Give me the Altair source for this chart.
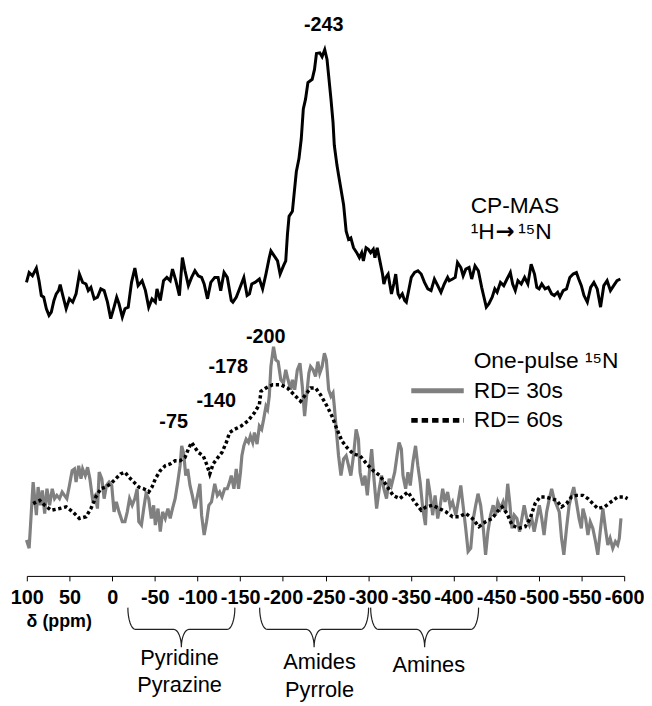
import math
import altair as alt
import pandas as pd

# ---------------- data ----------------
# (chemical shift in ppm, intensity in arbitrary units)
CP_MAS = [
    (100.4, 8.3), (97.3, 18.3), (93.4, 15.0), (88.8, 22.7), (85.7, 10.0), (83.0, -5.0), (80.2, -6.7),
    (77.1, -18.3), (74.0, -25.0), (71.3, -21.7), (68.2, -10.0), (65.5, -3.3), (62.8, 0.0), (60.9, 6.0),
    (57.8, -5.0), (53.9, -18.3), (50.1, -8.3), (46.2, -11.7), (42.3, -3.3), (38.4, 16.7), (34.6, 8.3),
    (30.7, 6.7), (28.0, 0.0), (24.9, 3.3), (21.0, -8.3), (17.2, -6.7), (13.3, 1.7), (9.4, 0.0),
    (5.5, -11.7), (1.7, -28.3), (-2.2, -16.7), (-5.3, -6.7), (-8.0, -13.3), (-11.9, -26.7), (-15.0, -18.3),
    (-18.8, -16.7), (-22.7, 8.3), (-26.6, 22.7), (-30.4, 5.0), (-35.1, 10.0), (-39.0, 0.0), (-42.8, -16.7),
    (-46.7, -8.3), (-50.6, -11.7), (-52.5, 1.7), (-56.4, -10.0), (-60.2, 10.0), (-64.1, 13.3), (-68.0, 10.0),
    (-70.7, 21.7), (-74.6, 10.0), (-78.8, -5.0), (-82.3, 33.3), (-85.4, 20.0), (-89.3, 5.0), (-93.1, 13.3),
    (-97.0, 20.0), (-100.9, 15.0), (-104.8, 13.3), (-107.8, 6.7), (-111.7, -8.3), (-115.6, 8.3),
    (-120.2, 13.3), (-124.1, 13.3), (-127.2, 0.0), (-131.1, 18.3), (-134.9, 13.3), (-139.6, -10.0),
    (-141.5, -11.7), (-145.4, -6.7), (-149.2, 1.7), (-154.3, 13.3), (-158.1, -5.0), (-160.9, -3.3),
    (-163.6, 6.7), (-167.4, 8.3), (-172.5, 11.7), (-176.3, 1.7), (-180.2, 16.7), (-184.1, 33.3),
    (-186.0, 40.0), (-189.9, 35.0), (-193.8, 30.0), (-196.8, 16.7), (-200.7, 25.0), (-203.4, 30.0),
    (-205.4, 56.7), (-207.3, 75.0), (-211.2, 80.0), (-213.1, 96.7), (-215.8, 120.0), (-218.9, 133.3),
    (-221.6, 153.3), (-224.0, 183.3), (-226.6, 193.3), (-229.4, 210.0), (-234.4, 213.3), (-237.1, 223.3),
    (-239.4, 239.3), (-243.3, 240.0), (-246.0, 236.0), (-249.1, 243.3), (-251.8, 233.3), (-253.7, 216.7),
    (-256.4, 193.3), (-258.8, 170.0), (-260.3, 146.7), (-263.4, 126.7), (-265.3, 116.7), (-267.3, 106.7),
    (-271.2, 86.7), (-274.2, 60.0), (-277.0, 51.7), (-279.7, 53.3), (-282.8, 43.3), (-286.6, 38.3),
    (-289.7, 33.3), (-292.4, 38.3), (-294.4, 30.0), (-297.5, 43.3), (-300.2, 41.7), (-302.9, 38.3),
    (-306.0, 41.7), (-307.9, 33.3), (-310.6, 43.3), (-313.7, 30.0), (-316.8, 16.7), (-318.4, 6.7),
    (-320.7, 13.3), (-323.4, 16.7), (-325.3, 6.7), (-327.3, -3.3), (-330.0, 6.7), (-332.3, 16.7),
    (-335.0, -3.3), (-337.0, -6.7), (-340.0, -3.3), (-342.7, -10.0), (-344.7, -11.7), (-347.8, 1.7),
    (-350.5, 13.3), (-354.4, 18.3), (-358.3, 20.0), (-362.1, 16.7), (-366.0, 8.3), (-369.9, 1.7),
    (-373.7, 0.0), (-377.6, 11.7), (-381.5, 5.0), (-385.3, -1.7), (-389.2, 6.7), (-393.1, 13.3),
    (-395.0, 10.0), (-398.9, 11.7), (-402.0, 13.3), (-404.7, 28.3), (-408.6, 23.3), (-411.3, 15.0),
    (-414.4, 21.7), (-418.2, 23.3), (-421.3, 11.7), (-425.2, 25.0), (-429.1, 20.0), (-433.0, 3.3),
    (-435.7, -6.7), (-438.4, -16.7), (-441.5, -13.3), (-445.3, -6.7), (-448.4, 1.7), (-451.1, -1.7),
    (-455.0, 8.3), (-458.9, 5.0), (-462.7, 11.7), (-466.6, 18.3), (-469.3, 6.7), (-472.4, 0.0),
    (-475.5, 10.0), (-479.4, 6.7), (-483.3, 13.3), (-487.1, 6.7), (-491.0, 26.7), (-494.9, 16.7),
    (-497.6, 3.3), (-500.3, 1.7), (-503.4, 6.7), (-507.3, 1.7), (-511.1, 3.3), (-515.0, -3.3),
    (-518.1, -5.0), (-522.0, -1.7), (-524.7, -6.7), (-528.5, 0.0), (-532.4, 1.7), (-536.3, 13.3),
    (-540.2, 16.7), (-544.0, 18.3), (-546.7, 11.7), (-549.8, 5.0), (-552.9, -5.0), (-556.8, -11.7),
    (-560.7, 3.3), (-564.5, 8.3), (-568.4, 1.7), (-572.3, -16.7), (-576.1, 5.0), (-580.0, 10.0),
    (-583.9, 0.0), (-587.7, 5.0), (-591.6, 10.0), (-595.5, 11.7),
]

RD_30S = [
    (100.4, -36.7), (97.3, -45.0), (94.5, -5.0), (92.6, 21.7), (90.7, 5.0), (88.8, -11.7), (86.8, 16.7),
    (84.1, -1.7), (81.8, 13.3), (79.1, -10.0), (76.4, 15.0), (73.3, -1.7), (70.2, 15.0), (67.5, 5.0),
    (64.8, 8.3), (61.7, 5.0), (58.6, 11.7), (55.9, 8.3), (53.1, 5.0), (50.1, 18.3), (46.9, 33.3),
    (44.2, 35.0), (42.3, 21.7), (39.2, 38.3), (36.5, 25.0), (34.6, 35.0), (31.5, 28.3), (28.8, 36.7),
    (26.1, 25.0), (23.0, 5.0), (19.9, 8.3), (17.2, -5.0), (15.2, 31.7), (12.1, 25.0), (9.4, 5.0),
    (6.7, 18.3), (3.6, 21.7), (0.5, 18.3), (-2.2, -8.3), (-4.9, 1.7), (-8.0, -8.3), (-11.9, -18.3),
    (-15.0, -18.3), (-17.7, -8.3), (-20.4, 5.0), (-23.5, -1.7), (-26.6, 5.0), (-29.3, 15.0), (-31.2, -18.3),
    (-34.3, -21.7), (-37.0, -5.0), (-39.7, 10.0), (-42.8, 5.0), (-45.9, -15.0), (-48.6, -1.7),
    (-50.6, -21.7), (-53.7, -5.0), (-56.4, -28.3), (-59.1, -8.3), (-62.2, -15.0), (-65.3, -5.0),
    (-68.0, -15.0), (-70.7, -5.0), (-73.8, 5.0), (-76.9, 21.7), (-79.6, 38.3), (-81.5, 58.3), (-83.9, 50.0),
    (-86.2, 28.3), (-88.5, 35.0), (-91.2, 18.3), (-93.9, 8.3), (-97.0, -5.0), (-100.1, 8.3), (-102.8, 20.0),
    (-104.8, -11.7), (-107.8, -31.7), (-110.6, -18.3), (-113.3, -1.7), (-116.4, 1.7), (-120.2, 20.0),
    (-123.3, 8.3), (-126.0, 11.7), (-128.7, 6.7), (-131.8, 15.0), (-134.9, 15.0), (-137.6, 21.7),
    (-139.6, 28.3), (-142.7, 15.0), (-145.4, 35.0), (-148.1, 15.0), (-150.4, 31.7), (-152.0, 48.3),
    (-154.3, 58.3), (-157.0, 65.0), (-159.7, 61.7), (-162.0, 68.3), (-164.7, 61.7), (-166.7, 71.7),
    (-169.8, 60.0), (-172.5, 78.3), (-175.2, 75.0), (-177.5, 85.0), (-180.2, 98.3), (-182.1, 95.0),
    (-184.1, 108.3), (-186.0, 138.3), (-189.1, 158.3), (-191.8, 145.0), (-194.5, 143.3), (-197.6, 125.0),
    (-200.7, 121.7), (-203.4, 135.0), (-206.1, 125.0), (-209.2, 115.0), (-211.2, 125.0), (-213.9, 115.0),
    (-217.0, 135.0), (-220.1, 141.7), (-222.8, 118.3), (-225.5, 88.3), (-227.8, 108.3), (-230.5, 131.7),
    (-232.5, 138.3), (-235.5, 135.0), (-238.3, 128.3), (-241.0, 143.3), (-243.3, 131.7), (-246.0, 138.3),
    (-248.7, 151.7), (-251.0, 145.0), (-253.7, 115.0), (-256.4, 108.3), (-258.8, 111.7), (-260.3, 98.3),
    (-262.6, 75.0), (-265.3, 48.3), (-268.1, 28.3), (-271.2, 45.0), (-274.2, 48.3), (-277.0, 38.3),
    (-279.7, 28.3), (-282.8, 48.3), (-285.9, 75.0), (-288.6, 65.0), (-290.5, 31.7), (-293.6, 18.3),
    (-296.3, 28.3), (-299.0, 8.3), (-302.1, 38.3), (-304.1, 55.0), (-306.8, 25.0), (-309.9, -5.0),
    (-313.0, 15.0), (-315.7, 28.3), (-318.4, 15.0), (-321.5, 5.0), (-324.6, 25.0), (-327.3, 18.3),
    (-331.1, 31.7), (-333.8, 48.3), (-336.2, 61.7), (-338.9, 55.0), (-340.8, 28.3), (-343.9, 15.0),
    (-346.6, 31.7), (-349.3, 18.3), (-352.4, 41.7), (-355.5, 58.3), (-358.2, 38.3), (-360.9, 21.7),
    (-364.0, -5.0), (-367.1, -21.7), (-369.8, 25.0), (-372.9, 8.3), (-375.6, -11.7), (-378.4, 8.3),
    (-381.5, -15.0), (-384.5, -1.7), (-387.3, 15.0), (-390.0, 1.7), (-393.1, 11.7), (-396.2, -3.3),
    (-398.9, 1.7), (-402.7, -11.7), (-405.4, 1.7), (-408.5, 18.3), (-411.6, -5.0), (-414.3, -25.0),
    (-417.1, -48.3), (-420.2, -45.0), (-423.2, -15.0), (-426.0, -1.7), (-428.7, 10.0), (-431.8, -1.7),
    (-434.9, -25.0), (-437.6, -51.7), (-440.3, -28.3), (-443.4, -11.7), (-446.5, -1.7), (-449.2, -11.7),
    (-451.9, 1.7), (-455.0, -5.0), (-458.1, 1.7), (-460.8, -8.3), (-463.5, 20.0), (-465.8, 1.7),
    (-468.5, -25.0), (-471.2, -11.7), (-474.3, -15.0), (-477.4, -28.3), (-480.1, -15.0), (-482.8, -1.7),
    (-485.9, -15.0), (-489.0, -21.7), (-491.7, -15.0), (-494.5, -28.3), (-497.6, -15.0), (-500.6, -1.7),
    (-503.4, -15.0), (-506.1, -31.7), (-509.2, -8.3), (-512.3, 5.0), (-515.0, 15.0), (-517.7, 5.0),
    (-520.8, -1.7), (-523.9, -8.3), (-526.6, -35.0), (-529.3, -51.7), (-532.4, -25.0), (-535.5, -1.7),
    (-538.2, 8.3), (-540.9, 16.7), (-544.0, 1.7), (-547.1, -15.0), (-549.8, -25.0), (-551.7, -5.0),
    (-554.8, -15.0), (-557.5, -31.7), (-560.2, -18.3), (-563.3, -25.0), (-566.4, -38.3), (-569.1, -51.7),
    (-571.9, -28.3), (-575.0, -5.0), (-578.0, -25.0), (-580.8, -41.7), (-583.5, -35.0), (-586.6, -45.0),
    (-589.7, -38.3), (-592.4, -41.7), (-594.3, -35.0), (-596.2, -15.0),
]

RD_60S = [
    (92.6, 0.0), (84.9, 3.3), (79.1, -1.7), (71.4, -6.7), (61.7, -5.0), (53.9, -3.3), (46.2, -8.3),
    (38.4, -15.0), (30.7, -13.3), (24.9, -5.0), (19.1, 6.7), (13.3, 15.0), (7.5, 16.7), (1.7, 20.0),
    (-4.1, 25.0), (-9.9, 30.0), (-15.0, 31.7), (-19.6, 26.7), (-25.4, 21.7), (-31.2, 16.7), (-37.0, 15.0),
    (-42.8, 11.7), (-46.7, 16.7), (-50.6, 25.0), (-56.4, 33.3), (-62.2, 38.3), (-68.0, 40.0), (-73.8, 43.3),
    (-79.6, 43.3), (-85.4, 46.7), (-89.3, 55.0), (-93.1, 61.7), (-97.0, 56.7), (-100.9, 51.7),
    (-106.7, 48.3), (-110.6, 40.0), (-114.4, 30.0), (-118.3, 40.0), (-124.1, 46.7), (-128.7, 51.7),
    (-133.8, 61.7), (-137.6, 71.7), (-143.4, 75.0), (-151.2, 78.3), (-158.9, 83.3), (-166.7, 91.7),
    (-172.5, 100.0), (-174.4, 113.3), (-180.2, 116.7), (-188.0, 120.0), (-197.6, 120.0), (-205.4, 116.7),
    (-213.1, 110.0), (-220.8, 103.3), (-226.6, 110.0), (-232.5, 116.7), (-238.3, 116.7), (-244.1, 110.0),
    (-251.8, 98.3), (-257.6, 88.3), (-263.4, 75.0), (-269.2, 63.3), (-275.0, 56.7), (-282.8, 50.0),
    (-290.5, 48.3), (-298.3, 40.0), (-306.0, 33.3), (-313.7, 28.3), (-321.5, 18.3), (-329.2, 8.3),
    (-336.9, 5.0), (-346.6, 11.7), (-354.4, 1.7), (-362.1, -6.7), (-367.9, -3.3), (-375.6, -1.7),
    (-383.4, -5.0), (-391.1, -8.3), (-398.9, -13.3), (-406.6, -13.3), (-414.3, -10.0), (-422.1, -15.0),
    (-429.8, -23.3), (-437.6, -18.3), (-445.3, -15.0), (-451.1, -8.3), (-456.9, -3.3), (-462.7, -10.0),
    (-468.5, -21.7), (-476.3, -25.0), (-484.0, -23.3), (-489.8, -15.0), (-495.6, 0.0), (-501.4, 6.7),
    (-507.2, 6.7), (-515.0, 5.0), (-520.8, 3.3), (-526.6, -3.3), (-532.4, 0.0), (-538.2, 6.7),
    (-544.0, 8.3), (-551.7, 8.3), (-557.5, 5.0), (-563.3, 0.0), (-569.1, -5.0), (-576.9, -3.3),
    (-584.6, 1.7), (-592.4, 6.7), (-600.1, 6.7), (-604.0, 5.0),
]

X_TICKS = [100, 50, 0, -50, -100, -150, -200, -250, -300, -350, -400, -450, -500, -550, -600]
PEAK_TEXTS = ["-243", "-200", "-178", "-140", "-75"]
TITLE_CP = "CP-MAS"
TITLE_CP_PARTS = ["\u00b9H", "\u2192", "\u00b9\u2075N"]
TITLE_ONEPULSE = "One-pulse \u00b9\u2075N"
SERIES_NAMES = ["RD= 30s", "RD= 60s"]
AXIS_TITLE = "\u03b4 (ppm)"
REGION_RANGES = [(-18.4, -143.8), (-172.8, -300.5), (-302.9, -429.4)]
REGION_TEXTS = [["Pyridine", "Pyrazine"], ["Amides", "Pyrrole"], ["Amines"]]

# ---------------- layout / style ----------------
FONT = "Liberation Sans, Arial, sans-serif"
W, H = 603, 570
TOP_OFFSET = 288      # vertical stacking offset of the CP-MAS trace
BOTTOM_OFFSET = 73    # vertical stacking offset of the one-pulse traces
PEAK_POS = [(-248, 556), (-180, 241), (-136, 211), (-122, 177), (-72, 155)]
CP_POS = (-420.1, 373)
CP2_POS = (-420.1, 347)
CP2_DX = [0, 25, 48]
ONEPULSE_POS = (-423.6, 217)
SERIES_TEXT_POS = [(-423.6, 187), (-423.6, 157)]
LEGEND_X = (-350.5, -412.0)
AXIS_TITLE_POS = (62, -47)
REGION_TEXT_POS = [[(-79, -83), (-79, -110)], [(-243, -87), (-243, -115)], [(-371, -90)]]
BRACE_Y = (-32, -54, -72)

XS = alt.Scale(domain=[100, -600], nice=False, zero=False)
YS = alt.Scale(domain=[0, H], nice=False, zero=False)

rows = []
for name, pts, off in [("cp", CP_MAS, TOP_OFFSET), ("rd30", RD_30S, BOTTOM_OFFSET), ("rd60", RD_60S, BOTTOM_OFFSET)]:
    for i, (p, v) in enumerate(pts):
        rows.append({"series": name, "i": i, "ppm": p, "y": v + off})
df = pd.DataFrame(rows)

AXIS = alt.Axis(values=X_TICKS, labelExpr="'' + datum.value", labelFont=FONT, labelFontWeight="bold",
                labelFontSize=20, labelColor="black", labelPadding=7, tickSize=5, tickColor="black",
                tickWidth=1, domainColor="black", domainWidth=1, grid=False, title=None,
                labelOverlap=False, labelFlush=False, labelBound=False)


def xenc(field="ppm"):
    return alt.X(f"{field}:Q", scale=XS, axis=AXIS)


def yenc(field="y"):
    return alt.Y(f"{field}:Q", scale=YS, axis=None)


base = alt.Chart(df)
gray = base.transform_filter("datum.series == 'rd30'").mark_line(
    color="#808080", strokeWidth=3.2).encode(x=xenc(), y=yenc(), order=alt.Order("i:Q"))
dotted = base.transform_filter("datum.series == 'rd60'").mark_line(
    color="black", strokeWidth=3.5, strokeDash=[3.3, 2.7]).encode(x=xenc(), y=yenc(), order=alt.Order("i:Q"))
top = base.transform_filter("datum.series == 'cp'").mark_line(
    color="black", strokeWidth=3).encode(x=xenc(), y=yenc(), order=alt.Order("i:Q"))


def text_layer(items, size, weight="normal", align="center", font=FONT, dx=0):
    d = pd.DataFrame([{"label": t, "ppm": p[0], "y": p[1]} for t, p in items])
    return alt.Chart(d).mark_text(font=font, fontSize=size, fontWeight=weight, align=align, dx=dx,
                                  baseline="middle", color="black").encode(
        x=xenc(), y=yenc(), text="label:N")


peaks = text_layer(list(zip(PEAK_TEXTS, PEAK_POS)), 20, "bold")
cp_title = text_layer([(TITLE_CP, CP_POS)], 23, align="left")
cp2a = text_layer([(TITLE_CP_PARTS[0], CP2_POS)], 23, align="left", dx=CP2_DX[0])
cp2b = text_layer([(TITLE_CP_PARTS[1], CP2_POS)], 23, weight="bold", align="left",
                  font="DejaVu Sans, sans-serif", dx=CP2_DX[1])
cp2c = text_layer([(TITLE_CP_PARTS[2], CP2_POS)], 23, align="left", dx=CP2_DX[2])
op_title = text_layer([(TITLE_ONEPULSE, ONEPULSE_POS)] + list(zip(SERIES_NAMES, SERIES_TEXT_POS)), 23, align="left")
axis_title = text_layer([(AXIS_TITLE, AXIS_TITLE_POS)], 18, "bold")
region_items = []
for texts, poss in zip(REGION_TEXTS, REGION_TEXT_POS):
    region_items += list(zip(texts, poss))
regions = text_layer(region_items, 22)

# legend swatches
leg30 = alt.Chart(pd.DataFrame([{"x1": LEGEND_X[0], "x2": LEGEND_X[1], "y": SERIES_TEXT_POS[0][1]}])).mark_rule(
    color="#808080", strokeWidth=5).encode(x=xenc("x1"), x2="x2:Q", y=yenc())
leg60 = alt.Chart(pd.DataFrame([{"x1": LEGEND_X[0], "x2": LEGEND_X[1], "y": SERIES_TEXT_POS[1][1]}])).mark_rule(
    color="black", strokeWidth=5, strokeDash=[6.5, 4]).encode(x=xenc("x1"), x2="x2:Q", y=yenc())


# curly braces spanning the chemical shift regions
def brace_points(a, b, w=9.0, n=8):
    yt, yh, yb = BRACE_Y
    m = (a + b) / 2
    pts = []
    for k in range(n + 1):
        t = math.pi / 2 * k / n
        pts.append((a - w * (1 - math.cos(t)), yt - (yt - yh) * math.sin(t)))
    for k in range(n + 1):
        t = math.pi / 2 * k / n
        pts.append((m + w - w * math.sin(t), yb + (yh - yb) * math.cos(t)))
    for k in range(n, -1, -1):
        t = math.pi / 2 * k / n
        pts.append((m - w + w * math.sin(t), yb + (yh - yb) * math.cos(t)))
    for k in range(n, -1, -1):
        t = math.pi / 2 * k / n
        pts.append((b + w * (1 - math.cos(t)), yt - (yt - yh) * math.sin(t)))
    return pts


brows = []
for j, (a, b) in enumerate(REGION_RANGES):
    for i, (p, y) in enumerate(brace_points(a, b)):
        brows.append({"b": j, "i": i, "ppm": p, "y": y})
braces = alt.Chart(pd.DataFrame(brows)).mark_line(color="#222222", strokeWidth=1.2).encode(
    x=xenc(), y=yenc(), detail="b:N", order=alt.Order("i:Q"))

chart = alt.layer(gray, dotted, top, peaks, cp_title, cp2a, cp2b, cp2c, op_title, axis_title, regions,
                  leg30, leg60, braces).properties(
    width=W, height=H,
    autosize=alt.AutoSizeParams(type="none"),
    padding={"left": 19, "top": 0, "right": 20, "bottom": 124},
).configure_view(stroke=None)

chart.save("out.html", embed_options={"renderer": "svg", "actions": False})
